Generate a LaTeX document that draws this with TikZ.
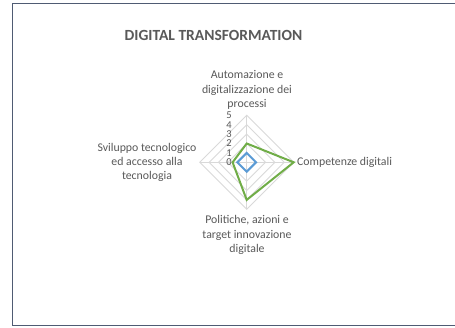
\documentclass[tikz,border=0pt]{standalone}
\usepackage{fontspec}
\setmainfont{Carlito}
\definecolor{txtgray}{HTML}{595959}
\definecolor{gridgray}{HTML}{D9D9D9}
\definecolor{sergreen}{HTML}{70AD47}
\definecolor{serblue}{HTML}{5B9BD5}
\definecolor{framecol}{HTML}{4F5B73}
\tikzset{
  axlabel/.style={text=txtgray, align=center, inner sep=0pt, font=\fontsize{11.8}{14.3}\selectfont},
  ticklabel/.style={text=txtgray, inner sep=0pt, anchor=east, font=\fontsize{10.5}{12}\selectfont},
  gridline/.style={draw=gridgray, line width=0.9pt},
  seriesline/.style={line width=2pt, line join=miter},
  titlestyle/.style={text=txtgray, inner sep=0pt, font=\bfseries\fontsize{15.5}{18}\selectfont},
}
\begin{document}
\begin{tikzpicture}[x=1pt,y=-1pt]
\useasboundingbox (0,0) rectangle (455,327);
\fill[white] (0,0) rectangle (455,327);
% frame (right side not visible)
\draw[framecol, line width=1pt] (455,3.5) -- (12.5,3.5) -- (12.5,325.5) -- (455,325.5);
% title
\node[titlestyle] (title) at (213.5,35.5) {DIGITAL TRANSFORMATION};
% radar geometry
\def\cx{246.7}\def\cy{162.3}\def\u{9.4}
\coordinate (c) at (\cx,\cy);
% grid rings
\foreach \r in {1,...,5}{
  \draw[gridline] (\cx,\cy-\r*\u) -- (\cx+\r*\u,\cy) -- (\cx,\cy+\r*\u) -- (\cx-\r*\u,\cy) -- cycle;
}
% spokes
\coordinate (ta) at (\cx,\cy-5*\u);
\coordinate (ra) at (\cx+5*\u,\cy);
\coordinate (ba) at (\cx,\cy+5*\u);
\coordinate (la) at (\cx-5*\u,\cy);
\draw[gridline] (c) -- (ta);
\draw[gridline] (c) -- (ra);
\draw[gridline] (c) -- (ba);
\draw[gridline] (c) -- (la);
% tick labels
\foreach \v in {0,...,5}{
  \node[ticklabel] (tick\v) at (232,\cy-\v*\u) {\v};
}
% series blue
\coordinate (b1) at (\cx,\cy-1*\u);
\coordinate (b2) at (\cx+1*\u,\cy);
\coordinate (b3) at (\cx,\cy+1*\u);
\coordinate (b4) at (\cx-1*\u,\cy);
\draw[serblue, seriesline] (b1) -- (b2) -- (b3) -- (b4) -- cycle;
% series green
\coordinate (g1) at (\cx,\cy-2*\u);
\coordinate (g2) at (\cx+5*\u,\cy);
\coordinate (g3) at (\cx,\cy+4*\u);
\coordinate (g4) at (\cx-1.5*\u,\cy);
\draw[sergreen, seriesline] (g1) -- (g2) -- (g3) -- (g4) -- cycle;
% axis labels
\node[axlabel] (labtop) at (247,90) {Automazione e\\digitalizzazione dei\\processi};
\node[axlabel, anchor=west] (labright) at (297,162.5) {Competenze digitali};
\node[axlabel] (labbottom) at (247,235) {Politiche, azioni e\\target innovazione\\digitale};
\node[axlabel] (lableft) at (147,162.5) {Sviluppo tecnologico\\ed accesso alla\\tecnologia};
\end{tikzpicture}
\end{document}
